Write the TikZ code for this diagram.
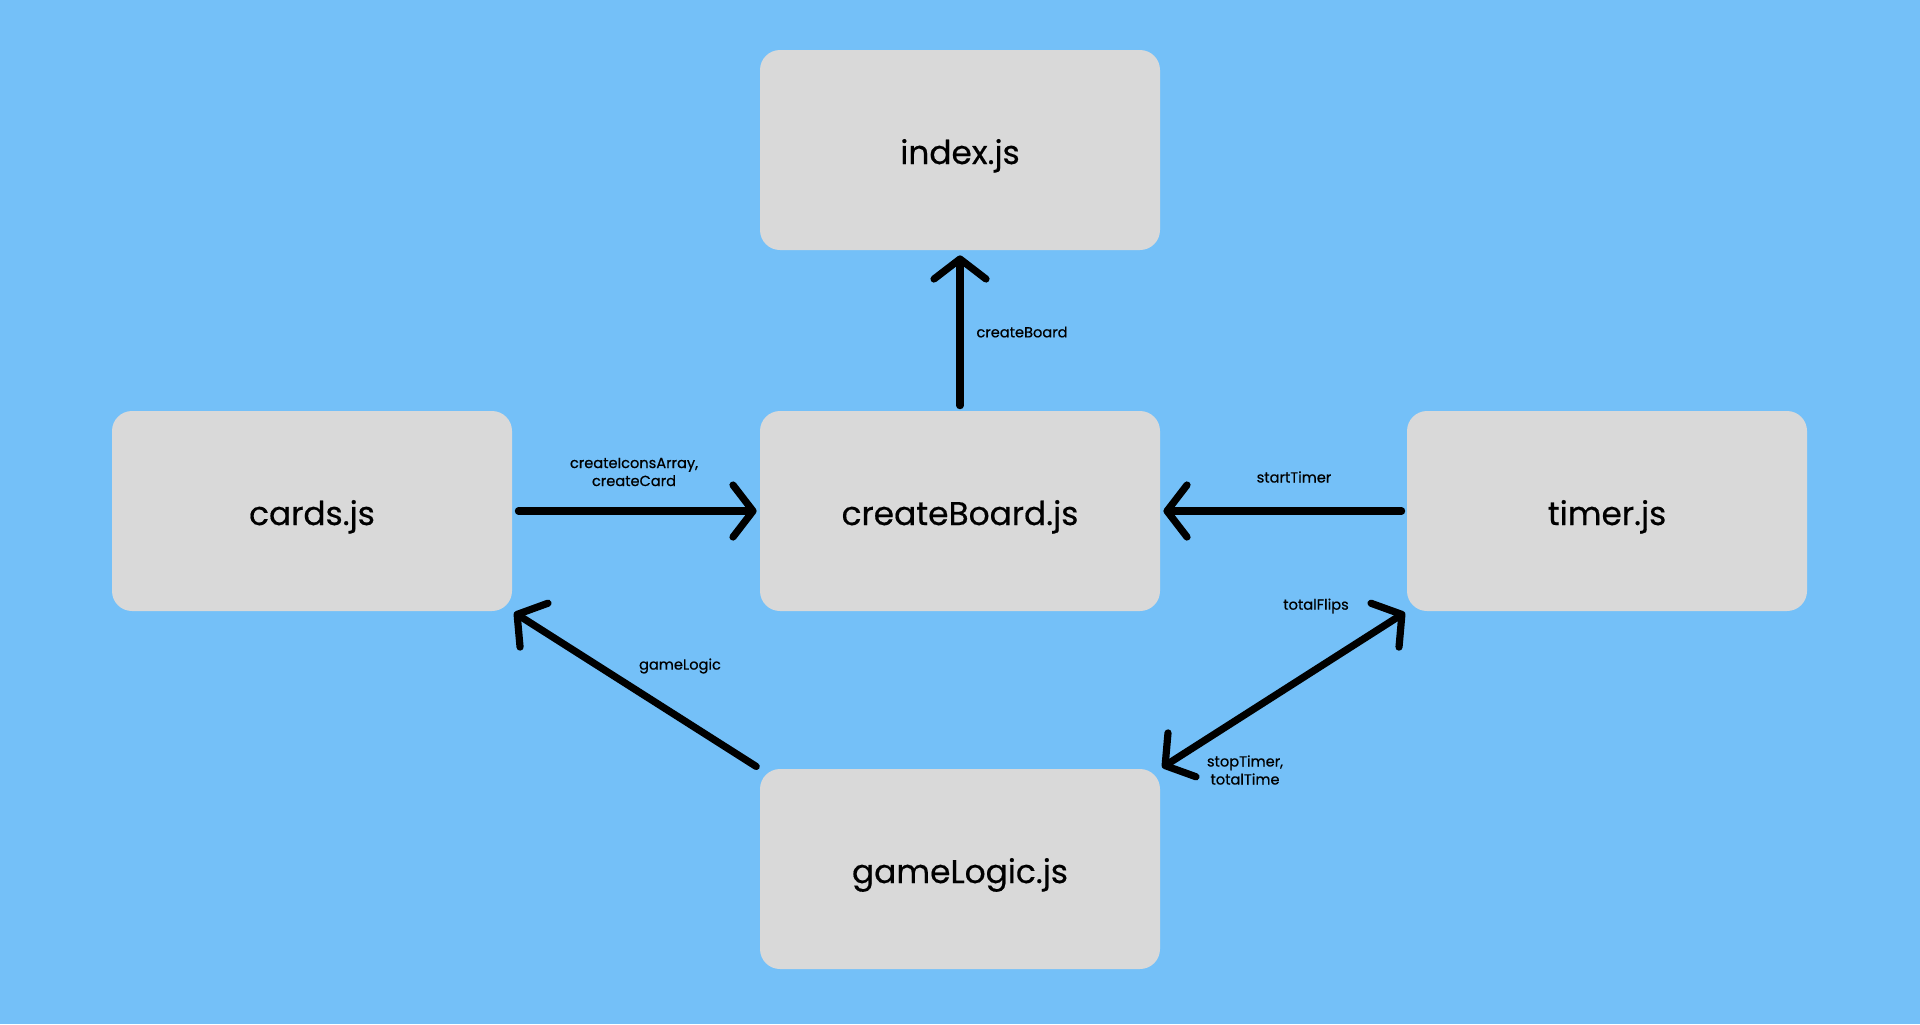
\documentclass[tikz,border=0pt]{standalone}
\usepackage{fontspec}
\setmainfont{Poppins}
\newfontfamily\modfont{Poppins}[FakeBold=0.5]
\usetikzlibrary{arrows.meta,positioning}
\definecolor{skyback}{RGB}{116,192,248}
\definecolor{boxgray}{RGB}{217,217,217}
\begin{document}
\begin{tikzpicture}[x=0.5pt, y=-0.5pt]
        \tikzstyle{module}=[fill=boxgray, rounded corners=10pt, minimum width=200pt, minimum height=100pt, inner sep=0pt, text height=14pt, text depth=0pt, font=\modfont\fontsize{16.4}{19}\selectfont]
        \tikzstyle{call}=[line width=3.6pt, line cap=round, -{Straight Barb[length=10pt, width=26pt, line cap=round, line join=round]}]
        \tikzstyle{tag}=[font=\modfont\fontsize{7.3}{9}\selectfont, align=center, inner sep=0pt]

% background of the whole figure
        \fill[skyback] (0,0) rectangle (1920,1024);

% the five modules
        \node[module] (index) at (960,150) {index.js};
        \node[module] (board) at (960,511) {createBoard.js};
        \node[module] (cards) at (312,511) {cards.js};
        \node[module] (timer) at (1607,511) {timer.js};
        \node[module] (game) at (960,869) {gameLogic.js};

% who calls whom
        \draw[call, shorten <=2.5pt, shorten >=2.5pt] (board.north) -- (index.south);
        \draw[call, shorten <=3pt, shorten >=1.5pt] (cards.east) -- (board.west);
        \draw[call, shorten <=2.5pt, shorten >=1.5pt] (timer.west) -- (board.east);
        \draw[call, shorten <=2pt, shorten >=1pt] (game.north west) -- (cards.south east);
        \draw[call, {Straight Barb[length=10pt, width=26pt, line cap=round, line join=round]}-{Straight Barb[length=10pt, width=26pt, line cap=round, line join=round]}, shorten <=1pt, shorten >=1pt] (game.north east) -- (timer.south west);

% labels of the calls
        \node[tag] (lboard) at (1022,332) {createBoard};
        \node[tag] (lcards) at (634,472) {createIconsArray,\\createCard};
        \node[tag] (ltimer) at (1294,477) {startTimer};
        \node[tag] (lgame) at (680,666) {gameLogic};
        \node[tag] (lflips) at (1316,606) {totalFlips};
        \node[tag] (lstop) at (1245,770) {stopTimer,\\totalTime};

    \end{tikzpicture}
\end{document}
